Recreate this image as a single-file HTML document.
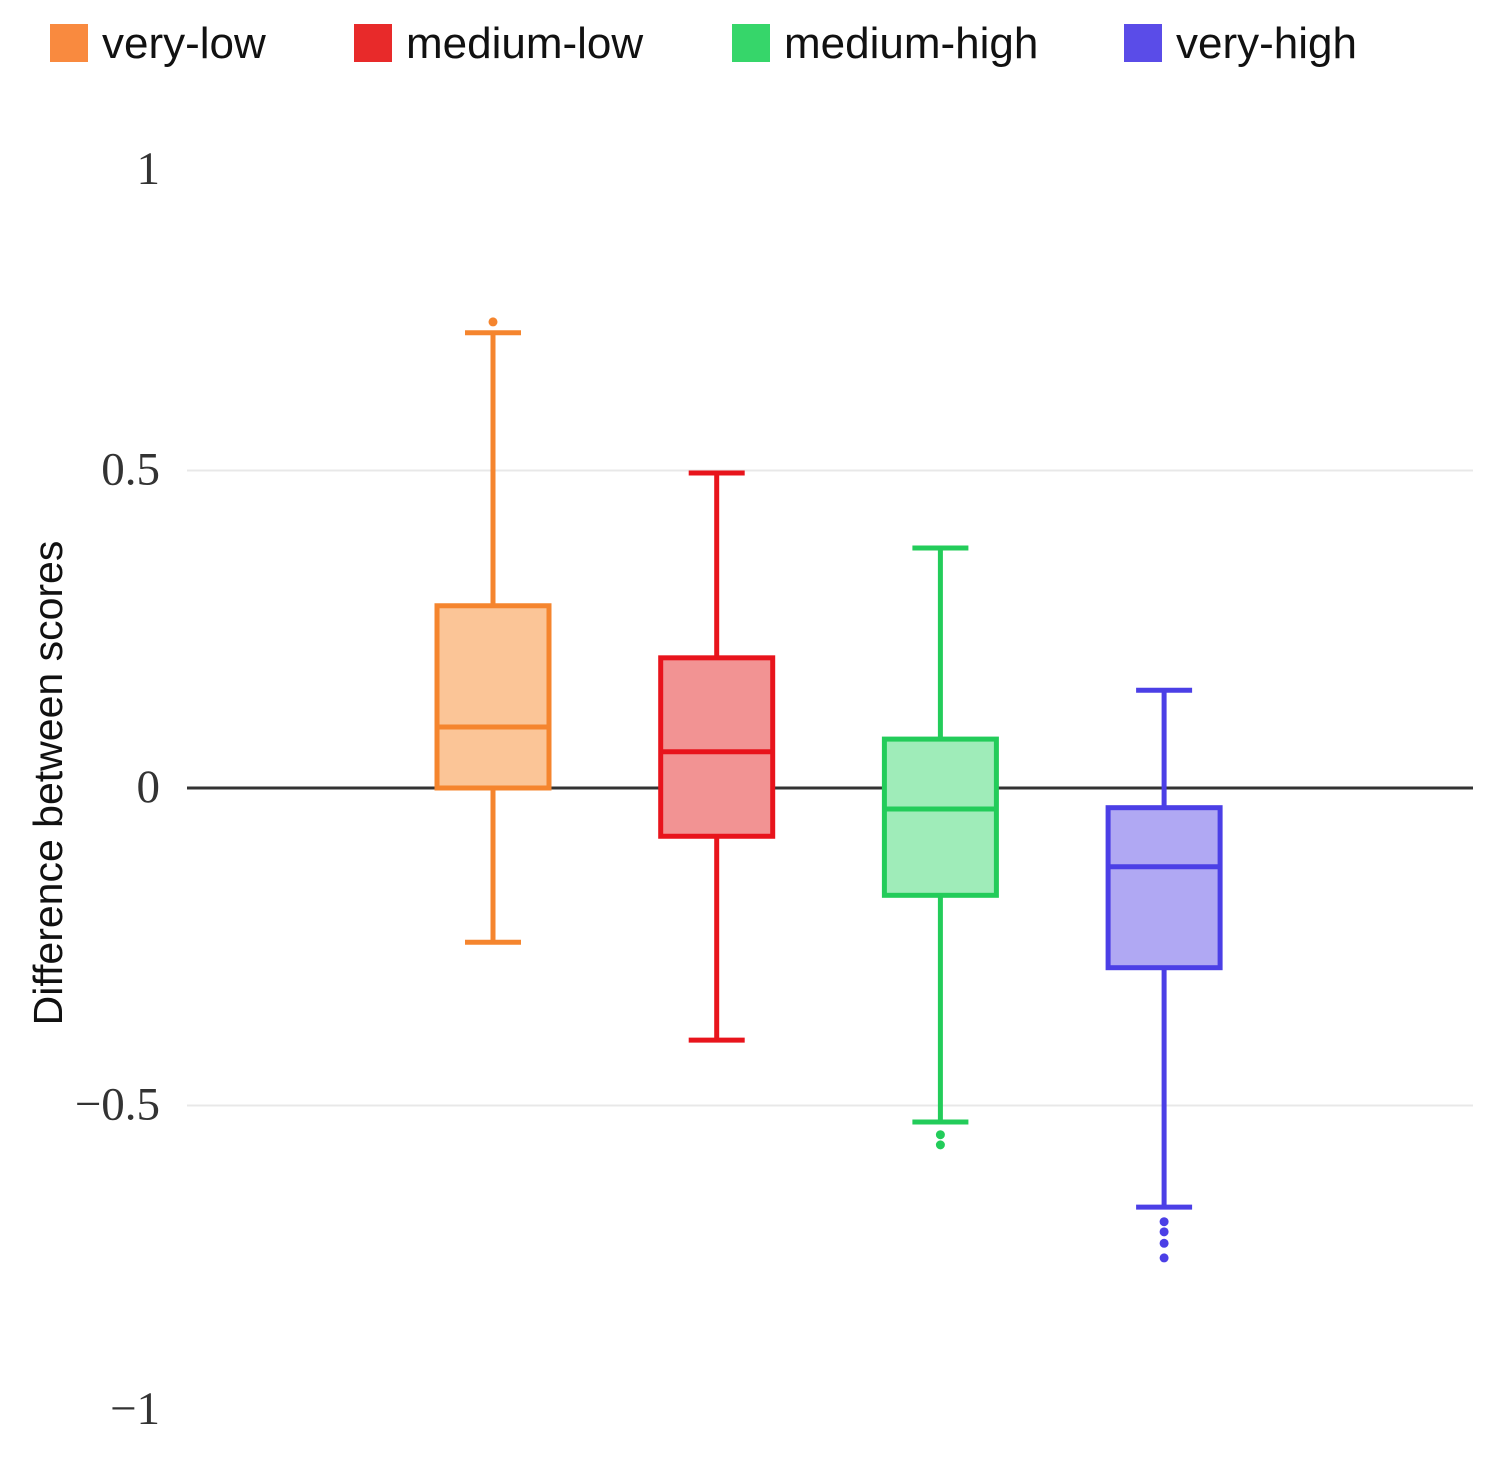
<!DOCTYPE html>
<html><head><meta charset="utf-8"><style>
body{margin:0;background:#fff;width:1497px;height:1458px;overflow:hidden}
svg{display:block}
</style></head><body>
<svg id="chart" width="1497" height="1458">
<g id="legend"></g>
<g id="grid"></g>
<g id="boxes"></g>
<text transform="translate(62,783) rotate(-90)" text-anchor="middle" font-family="Liberation Sans, sans-serif" font-size="41" fill="#111">Difference between scores</text>
</svg>
<script>
const categories=["very-low","medium-low","medium-high","very-high"];
const lowerWhisker=[-0.243,-0.397,-0.526,-0.66];
const q1=[0,-0.076,-0.169,-0.283];
const medians=[0.096,0.057,-0.033,-0.124];
const q3=[0.287,0.205,0.077,-0.031];
const upperWhisker=[0.717,0.496,0.378,0.154];
const outliers=[[0.734],[],[-0.546,-0.562],[-0.683,-0.699,-0.717,-0.74]];
const yTicks=[1,0.5,0,-0.5,-1];
const yTickLabels=["1","0.5","0","\u22120.5","\u22121"];
const strokeColors=["#f5852e","#e8141c","#23cc5a","#4b3fe6"];
const fillColors=["#fbc597","#f29393","#9fecb9","#b0a8f3"];
const legendColors=["#f98a3f","#e82a2a","#36d66a","#5a4ce8"];
const NS="http://www.w3.org/2000/svg";
const y=v=>788-v*635;
const x=i=>493+i*223.7;
function mk(tag,attrs,parent){const e=document.createElementNS(NS,tag);for(const k in attrs)e.setAttribute(k,attrs[k]);parent.appendChild(e);return e;}
const grid=document.getElementById('grid'),boxes=document.getElementById('boxes'),legend=document.getElementById('legend');
yTicks.forEach((t,i)=>{
  if(t!==0&&Math.abs(t)<1){const l=mk('line',{x1:187,x2:1473,y1:y(t),y2:y(t),stroke:'#e8e8e8','stroke-width':2},grid);
  
  }
  const ly=t===1?184:t===-1?1424:y(t)+14;
  const tx=mk('text',{x:160,y:ly,'text-anchor':'end','font-family':'Liberation Serif, serif','font-size':47,fill:'#333'},grid);
  tx.textContent=yTickLabels[i];
  
  
});
const zl=mk('line',{x1:187,x2:1473,y1:y(0),y2:y(0),stroke:'#333','stroke-width':3},grid);


categories.forEach((c,i)=>{
  const g=mk('g',{},boxes);
  
  
  const cx=x(i),hw=56,cw=28,col=strokeColors[i];
  mk('line',{x1:cx,x2:cx,y1:y(upperWhisker[i]),y2:y(q3[i]),stroke:col,'stroke-width':5},g);
  mk('line',{x1:cx,x2:cx,y1:y(q1[i]),y2:y(lowerWhisker[i]),stroke:col,'stroke-width':5},g);
  mk('line',{x1:cx-cw,x2:cx+cw,y1:y(upperWhisker[i]),y2:y(upperWhisker[i]),stroke:col,'stroke-width':5},g);
  mk('line',{x1:cx-cw,x2:cx+cw,y1:y(lowerWhisker[i]),y2:y(lowerWhisker[i]),stroke:col,'stroke-width':5},g);
  mk('rect',{x:cx-hw,y:y(q3[i]),width:hw*2,height:y(q1[i])-y(q3[i]),fill:fillColors[i],stroke:col,'stroke-width':5},g);
  mk('line',{x1:cx-hw,x2:cx+hw,y1:y(medians[i]),y2:y(medians[i]),stroke:col,'stroke-width':5},g);
  outliers[i].forEach(o=>{const p=mk('circle',{cx:cx,cy:y(o),r:4.5,fill:col},g);
  
  });
  const lx=[50,354,732,1124][i];
  const r=mk('rect',{x:lx,y:24,width:38,height:38,fill:legendColors[i]},legend);
  
  
  const t=mk('text',{x:lx+52,y:58,'font-family':'Liberation Sans, sans-serif','font-size':44,fill:'#111'},legend);
  t.textContent=c;
  
  
});
</script>
</body></html>
